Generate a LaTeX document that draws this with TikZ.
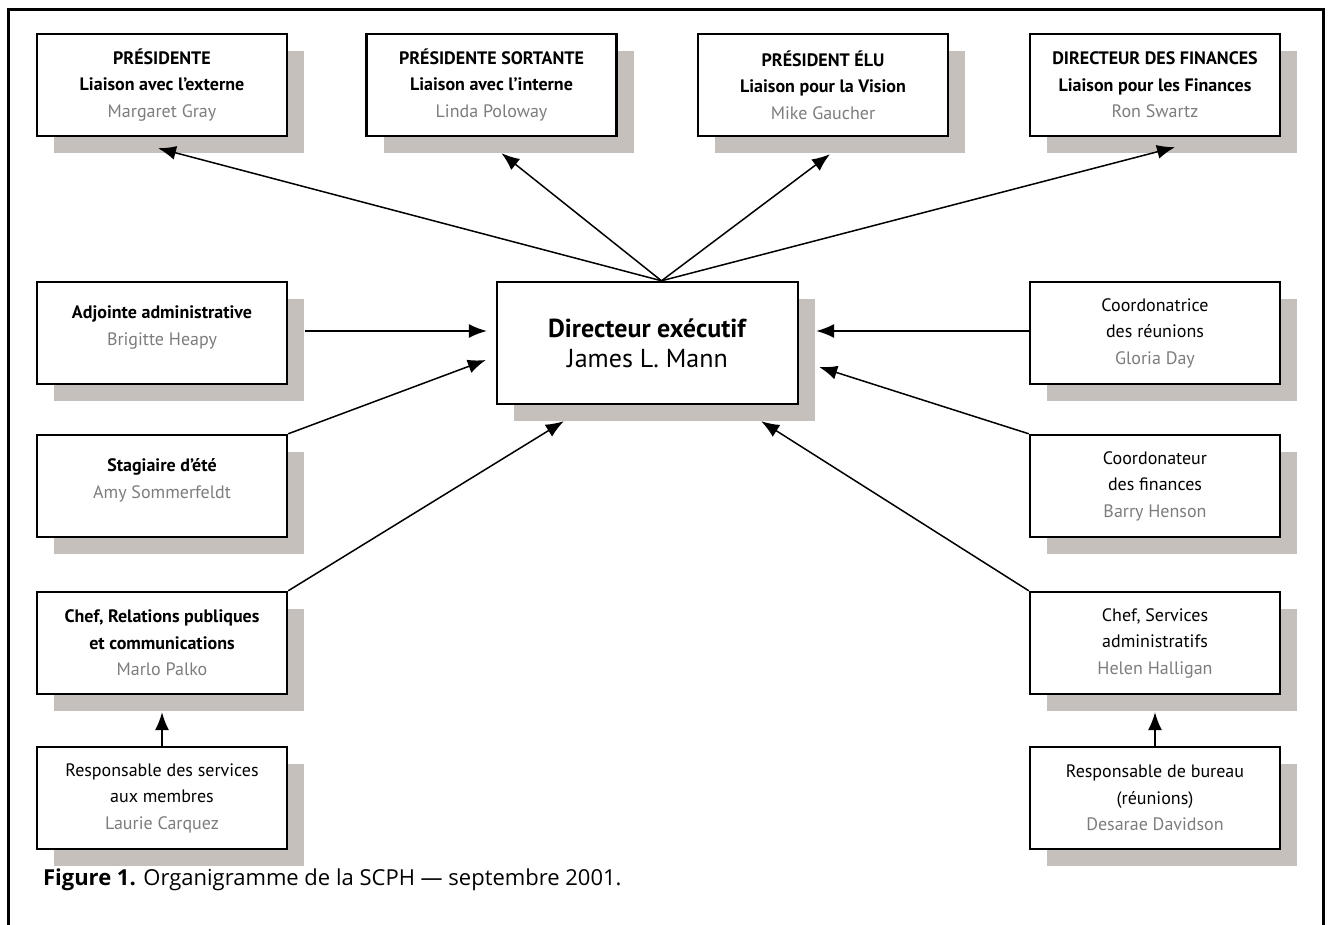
\documentclass[tikz,border=0pt]{standalone}
\usepackage{fontspec}
\setmainfont{PT Sans}
\newfontfamily\capfont{Open Sans}
\usetikzlibrary{arrows.meta,shadows}
\definecolor{namegray}{RGB}{125,125,125}
\definecolor{shadowgray}{RGB}{198,192,188}
\newcommand{\who}[1]{\textcolor{namegray}{#1}}
\newcommand{\padline}{\\[-5.75pt]\mbox{}}

\begin{document}
\begin{tikzpicture}[x=0.5pt,y=-0.5pt,
box/.style={draw,line width=1.2pt,fill=white,minimum width=125pt,minimum height=51pt,
  align=center,inner sep=2pt,font=\fontsize{9}{13.25}\selectfont,
  drop shadow={shadow xshift=8.5pt,shadow yshift=-8.5pt,fill=shadowgray,opacity=1}},
bigbox/.style={box,minimum width=150.5pt,minimum height=61pt,font=\fontsize{13}{15}\selectfont},
arr/.style={line width=0.75pt,-{Latex[length=9pt,width=7pt]}}]
\useasboundingbox (0,0) rectangle (1328,925);
\draw[line width=1.5pt] (8,925) -- (8,10) -- (1323,10) -- (1323,925);

\node[box] (T1) at (162,85) {\textbf{PRÉSIDENTE}\\\textbf{Liaison avec l'externe}\\\who{Margaret Gray}};
\node[box] (T2) at (491.5,85) {\textbf{PRÉSIDENTE SORTANTE}\\\textbf{Liaison avec l'interne}\\\who{Linda Poloway}};
\node[box] (T3) at (823,85) {\textbf{PRÉSIDENT ÉLU}\\\textbf{Liaison pour la Vision}\\\who{Mike Gaucher}};
\node[box] (T4) at (1155,85) {\textbf{DIRECTEUR DES FINANCES}\\\textbf{Liaison pour les Finances}\\\who{Ron Swartz}};

\node[bigbox] (C) at (647.5,343) {\textbf{Directeur exécutif}\\James L. Mann};

\node[box] (L1) at (162,333) {\textbf{Adjointe administrative}\\\who{Brigitte Heapy}\padline};
\node[box] (L2) at (162,486) {\textbf{Stagiaire d'été}\\\who{Amy Sommerfeldt}\padline};
\node[box] (L3) at (162,643) {\textbf{Chef, Relations publiques}\\\textbf{et communications}\\\who{Marlo Palko}};
\node[box] (L4) at (162,798) {Responsable des services\\aux membres\\\who{Laurie Carquez}};

\node[box] (R1) at (1155,333) {Coordonatrice\\des réunions\\\who{Gloria Day}};
\node[box] (R2) at (1155,486) {Coordonateur\\des finances\\\who{Barry Henson}};
\node[box] (R3) at (1155,643) {Chef, Services\\administratifs\\\who{Helen Halligan}};
\node[box] (R4) at (1155,798) {Responsable de bureau\\(réunions)\\\who{Desarae Davidson}};

\node[anchor=west,font=\capfont\fontsize{11}{13}\selectfont] (cap) at (36,880)
  {\textbf{Figure 1.} Organigramme de la SCPH — septembre 2001.};

\path [every edge/.append style=arr]
([xshift=7pt]C.north) edge ([xshift=-2pt,yshift=-5.5pt]T1.south)
([xshift=7pt]C.north) edge ([xshift=5pt,yshift=-8pt]T2.south)
([xshift=7pt]C.north) edge ([xshift=3.5pt,yshift=-8.5pt]T3.south)
([xshift=7pt]C.north) edge ([xshift=10pt,yshift=-5pt]T4.south)
([xshift=8.5pt,yshift=1pt]L1.east) edge ([xshift=-4.5pt,yshift=6pt]C.west)
(L2.north east) edge ([xshift=-5pt,yshift=-8.5pt]C.west)
(L3.north east) edge ([xshift=34pt,yshift=-8pt]C.south west)
([yshift=1pt]R1.west) edge ([xshift=8.5pt,yshift=6pt]C.east)
(R2.north west) edge ([xshift=10pt,yshift=-12pt]C.east)
(R3.north west) edge ([xshift=-19pt,yshift=-8pt]C.south east)
(L4.north) edge ([yshift=-8.5pt]L3.south)
(R4.north) edge ([yshift=-8.5pt]R3.south);
\end{tikzpicture}
\end{document}
